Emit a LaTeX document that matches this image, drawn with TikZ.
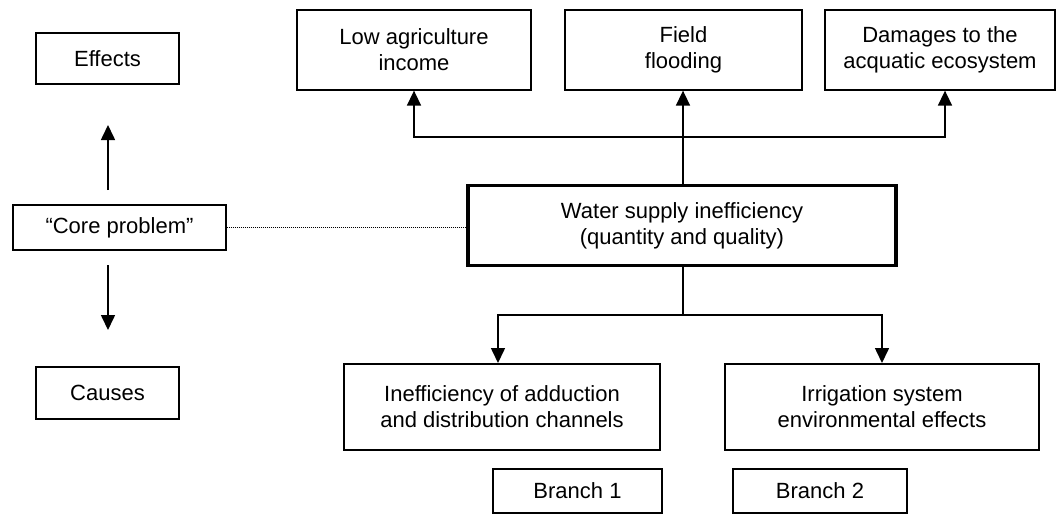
\documentclass[tikz,border=0pt]{standalone}
\usepackage{fontspec}
\setmainfont{Liberation Sans}
\usetikzlibrary{arrows.meta}

\begin{document}
\begin{tikzpicture}[x=1pt, y=-1pt,
	>={Triangle[width=14pt,length=15pt]},
	font=\fontsize{22}{26}\selectfont,
	box/.style={draw, line width=1.3pt, align=center, inner sep=0pt},
	midbox/.style={box, line width=2pt},
	corebox/.style={box, line width=3.5pt},
	link/.style={line width=1.6pt}]
	\useasboundingbox (0, 0) rectangle (1060, 514);

	\node[box, minimum width=143, minimum height=51] (effects) at (107.5, 58.5) {Effects};
	\node[box, minimum width=213, minimum height=45] (corelabel) at (119.5, 227.5) {``Core problem''};
	\node[box, minimum width=143, minimum height=52] (causes) at (107.5, 393) {Causes};

	\node[box, minimum width=234, minimum height=80] (income) at (414, 50) {Low agriculture\\income};
	\node[box, minimum width=237, minimum height=80] (flooding) at (683.5, 50) {Field\\flooding};
	\node[box, minimum width=230, minimum height=80] (ecosystem) at (940, 50) {Damages to the\\acquatic ecosystem};

	\node[corebox, minimum width=428, minimum height=80] (core) at (682, 225.5) {Water supply inefficiency\\(quantity and quality)};

	\node[midbox, minimum width=316, minimum height=86] (channels) at (502, 407) {Inefficiency of adduction\\and distribution channels};
	\node[midbox, minimum width=314, minimum height=86] (irrigation) at (882, 407) {Irrigation system\\environmental effects};

	\node[box, minimum width=169, minimum height=44] (branch1) at (577.5, 491) {Branch 1};
	\node[box, minimum width=174, minimum height=44] (branch2) at (820, 491) {Branch 2};

	\coordinate (upfrom) at (108, 190);
	\coordinate (upto) at (108, 125);
	\coordinate (downfrom) at (108, 265);
	\coordinate (downto) at (108, 330);
	\draw[link, ->] (upfrom) -- (upto);
	\draw[link, ->] (downfrom) -- (downto);

	\draw[densely dotted, line width=1pt] (corelabel.east) -- (corelabel.east -| core.west);

	\coordinate (topfork) at (683, 137);
	\draw[link, ->] (core.north -| topfork) -- (flooding.south -| topfork);
	\draw[link, ->] (topfork) -| (income.south);
	\draw[link, ->] (topfork) -| ([xshift=5pt]ecosystem.south);

	\coordinate (botfork) at (683, 315);
	\draw[link] (core.south -| botfork) -- (botfork);
	\draw[link, ->] (botfork) -| ([xshift=-4pt]channels.north);
	\draw[link, ->] (botfork) -| (irrigation.north);
\end{tikzpicture}
\end{document}
